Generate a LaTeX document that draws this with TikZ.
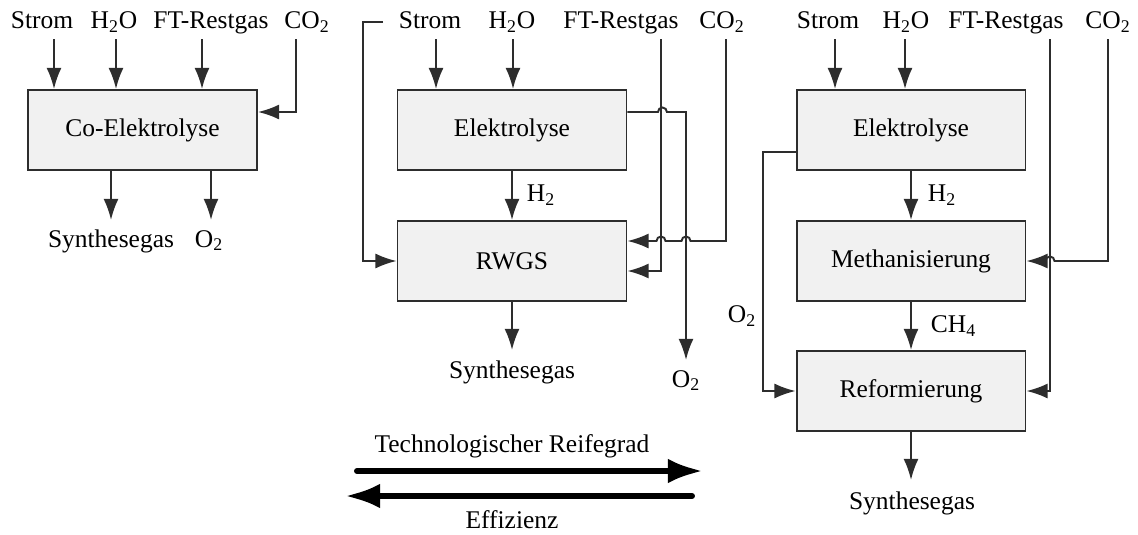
\documentclass[tikz,border=0pt]{standalone}
\usepackage{fontspec}
\setmainfont{Liberation Serif}
\usetikzlibrary{arrows.meta,positioning}
\definecolor{boxgray}{RGB}{241,241,241}
\definecolor{linegray}{RGB}{45,45,45}
\tikzset{
  flow/.style={-{Latex[length=12pt,width=8.5pt]}, line width=1.1pt, draw=linegray},
  unitbox/.style={
    draw=linegray, line width=1.1pt, fill=boxgray,
    minimum width=4.58cm, minimum height=1.6cm, inner sep=0pt
  },
  stream/.style={anchor=base, inner sep=0pt},
  trend/.style={-{Latex[length=20pt,width=14pt]}, line width=3.4pt, line cap=round}
}

\begin{document}
\begin{tikzpicture}[x=0.02cm, y=0.02cm, font=\fontsize{14.5}{17}\selectfont]
\useasboundingbox (0,0) rectangle (1138,-534);

%--------------------------------------------------
% Left: Co-Elektrolyse
%--------------------------------------------------
\node[stream] (lstrom) at (42,-29) {Strom};
\node[stream] (lwater) at (114,-29) {H\textsubscript{2}O};
\node[stream] (lrest)  at (211,-29) {FT-Restgas};
\node[stream] (lcarb)  at (307,-29) {CO\textsubscript{2}};

\node[unitbox] (coel) at (142.5,-130) {Co-Elektrolyse};

\coordinate (lstromin) at (54,-39);
\coordinate (lwaterin) at (116,-39);
\coordinate (lrestin)  at (202,-39);
\coordinate (lcarbin)  at (296,-39);

\draw[flow] (lstromin) -- (lstromin |- coel.north);
\draw[flow] (lwaterin) -- (lwaterin |- coel.north);
\draw[flow] (lrestin) -- (lrestin |- coel.north);
\draw[flow] (lcarbin) |- ([yshift=0.36cm]coel.east);

\coordinate (lsynout) at (111,-220);
\coordinate (loxout)  at (211,-220);
\draw[flow] (lsynout |- coel.south) -- (lsynout);
\draw[flow] (loxout |- coel.south) -- (loxout);

\node[stream] (lsyn) at (111,-247) {Synthesegas};
\node[stream] (lox)  at (209,-247) {O\textsubscript{2}};

%--------------------------------------------------
% Middle: Elektrolyse + RWGS
%--------------------------------------------------
\node[stream] (mstrom) at (430,-29) {Strom};
\node[stream] (mwater) at (512,-29) {H\textsubscript{2}O};
\node[stream] (mrest)  at (621,-29) {FT-Restgas};
\node[stream] (mcarb)  at (722,-29) {CO\textsubscript{2}};

\node[unitbox] (elek) at (512,-130) {Elektrolyse};
\node[unitbox] (rwgs) at (512,-261) {RWGS};

\coordinate (mloop)    at (383,-22);
\coordinate (mstromin) at (436,-39);
\coordinate (mwaterin) at (513,-39);
\coordinate (mrestin)  at (661,-39);
\coordinate (mcarbin)  at (726,-39);
\coordinate (moxout)   at (686,-360);
\coordinate (msynout)  at (512,-350);

\draw[flow] (mloop) -- ++(-20,0) |- (rwgs.west);
\draw[flow] (mstromin) -- (mstromin |- elek.north);
\draw[flow] (mwaterin) -- (mwaterin |- elek.north);

\draw[flow] (elek.south) -- node[right=0.28cm, inner sep=0pt] (mhyd) {H\textsubscript{2}} (rwgs.north);

% O2 leaves Elektrolyse, hops over FT-Restgas
\draw[flow] ([yshift=0.36cm]elek.east) -- ++(30.5,0)
  arc[start angle=180, end angle=0, radius=4.5] -| (moxout);

% CO2 into RWGS, hops over O2 and FT-Restgas
\draw[flow] (mcarbin) -- ++(0,-202) -- ++(-35.5,0)
  arc[start angle=0, end angle=180, radius=4.5] -- ++(-16,0)
  arc[start angle=0, end angle=180, radius=4.5] -- ([yshift=0.4cm]rwgs.east);

\draw[flow] (mrestin) |- ([yshift=-0.2cm]rwgs.east);
\draw[flow] (rwgs.south) -- (msynout);

\node[stream] (msyn) at (512,-378) {Synthesegas};
\node[stream] (mox)  at (686,-387) {O\textsubscript{2}};

%--------------------------------------------------
% Right: Elektrolyse + Methanisierung + Reformierung
%--------------------------------------------------
\node[stream] (rstrom) at (828,-29) {Strom};
\node[stream] (rwater) at (906,-29) {H\textsubscript{2}O};
\node[stream] (rrest)  at (1006,-29) {FT-Restgas};
\node[stream] (rcarb)  at (1108,-29) {CO\textsubscript{2}};

\node[unitbox] (relek)  at (911,-130) {Elektrolyse};
\node[unitbox] (meth)   at (911,-261) {Methanisierung};
\node[unitbox] (reform) at (911,-391) {Reformierung};

\coordinate (rstromin) at (835,-39);
\coordinate (rwaterin) at (905,-39);
\coordinate (rrestin)  at (1050,-39);
\coordinate (rcarbin)  at (1108,-39);
\coordinate (rsynout)  at (911,-480);

\draw[flow] (rstromin) -- (rstromin |- relek.north);
\draw[flow] (rwaterin) -- (rwaterin |- relek.north);

\draw[flow] (relek.south) -- node[right=0.32cm, inner sep=0pt] (rhyd) {H\textsubscript{2}} (meth.north);
\draw[flow] (meth.south) -- node[right=0.38cm, inner sep=0pt] (rmeth) {CH\textsubscript{4}} (reform.north);

% O2 from Elektrolyse to Reformierung
\draw[flow] ([yshift=-0.44cm]relek.west) -- ++(-33,0) |- (reform.west);
\node (rox) at (742,-316) {O\textsubscript{2}};

\draw[flow] (rrestin) |- (reform.east);

% CO2 into Methanisierung, hops over FT-Restgas
\draw[flow] (rcarbin) -- ++(0,-222) -- ++(-53.5,0)
  arc[start angle=0, end angle=180, radius=4.5] -- (meth.east);

\draw[flow] (reform.south) -- (rsynout);
\node[stream] (rsyn) at (912,-509) {Synthesegas};

%--------------------------------------------------
% Trend arrows
%--------------------------------------------------
\coordinate (reifestart) at (357,-471);
\coordinate (reifeend)   at (703,-471);
\coordinate (effstart)   at (692,-496);
\coordinate (effend)     at (345,-496);

\draw[trend] (reifestart) -- (reifeend);
\draw[trend] (effstart) -- (effend);

\node[stream] (reife) at (512,-452) {Technologischer Reifegrad};
\node[stream] (eff)   at (512,-528) {Effizienz};

\end{tikzpicture}
\end{document}
